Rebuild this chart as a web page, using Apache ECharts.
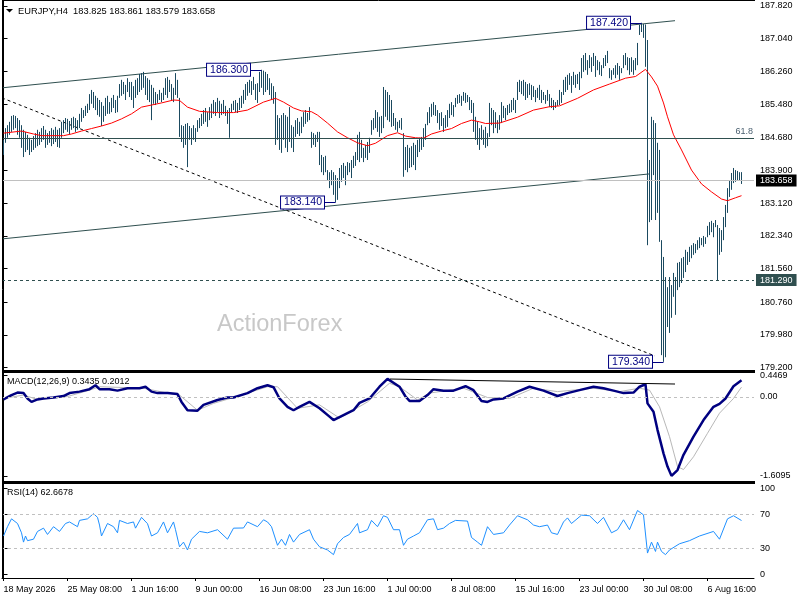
<!DOCTYPE html>
<html><head><meta charset="utf-8">
<script src="https://cdn.jsdelivr.net/npm/echarts@6.0.0/dist/echarts.min.js"></script>
<style>html,body{margin:0;padding:0;background:#fff}#c{width:800px;height:600px}</style>
</head><body><div id="c"></div>
<script>
// ---------- DATA ----------
const highs = [
184.63,184.91,184.98,185.06,185.20,185.22,185.20,185.15,185.10,184.98,
184.87,184.82,184.75,184.68,184.63,184.72,184.79,184.87,184.82,184.91,
184.96,184.87,184.79,184.84,184.91,184.87,184.94,184.87,184.91,185.06,
185.10,185.15,185.13,185.08,185.15,185.18,185.15,185.10,185.25,185.39,
185.34,185.44,185.49,185.72,185.82,185.77,185.68,185.63,185.58,185.53,
185.44,185.63,185.68,185.53,185.63,185.70,185.58,185.68,185.96,186.06,
186.01,185.94,186.10,186.01,186.01,185.91,186.06,186.10,186.20,186.22,
186.25,186.15,186.10,186.06,185.94,185.87,185.77,185.72,185.82,185.75,
185.87,186.10,186.13,186.06,185.96,185.87,186.22,186.06,185.63,184.98,
184.96,185.01,185.03,184.96,184.91,184.98,184.91,185.10,185.15,185.25,
185.34,185.39,185.29,185.41,185.49,185.58,185.53,185.63,185.56,185.49,
185.58,185.44,185.34,185.39,185.49,185.56,185.58,185.51,185.63,185.68,
185.82,185.96,186.01,186.06,186.03,186.13,185.96,185.98,186.25,186.30,
186.28,186.25,186.20,186.10,185.98,185.91,185.77,185.22,185.15,185.22,
185.27,185.22,185.18,185.41,184.98,184.94,185.10,185.15,185.06,185.18,
185.29,185.34,185.27,185.41,184.82,184.79,184.75,184.82,184.82,184.27,
184.22,184.25,183.91,183.86,183.91,183.86,183.79,183.72,183.96,184.03,
184.08,184.01,184.10,184.08,184.15,184.25,184.34,184.75,184.82,184.63,
184.44,184.51,184.58,184.68,185.10,185.15,185.34,185.29,185.18,185.20,
185.89,185.82,185.77,185.70,185.58,185.27,185.15,185.06,185.10,185.15,
184.79,184.46,184.51,184.44,184.48,184.56,184.51,184.63,184.68,184.70,
184.91,185.01,185.29,185.41,185.49,185.53,185.46,185.34,185.27,185.29,
185.15,185.22,185.34,185.49,185.53,185.46,185.63,185.70,185.72,185.68,
185.77,185.75,185.70,185.65,185.58,185.51,185.18,185.06,184.91,184.98,
184.87,184.94,184.79,185.51,185.39,185.34,185.29,185.10,185.22,185.53,
185.44,185.39,185.46,185.49,185.58,185.63,185.58,186.01,186.06,186.03,
186.06,186.01,185.96,185.98,185.94,185.91,185.82,185.87,185.94,185.82,
185.77,185.70,185.82,185.72,185.63,185.58,185.53,185.58,185.82,185.77,
186.06,186.13,186.18,186.22,186.15,186.25,186.18,186.20,186.25,186.58,
186.65,186.70,186.53,186.65,186.60,186.70,186.63,186.53,186.49,186.41,
186.58,186.65,186.75,186.34,186.29,186.34,186.41,186.46,186.39,186.34,
186.65,186.70,186.60,186.58,186.60,186.53,186.58,186.94,187.37,187.42,
187.39,187.38,187.01,184.15,185.18,185.10,185.03,184.56,184.39,182.24,
181.84,181.36,181.12,181.36,181.17,181.46,181.36,181.70,181.72,181.81,
181.84,182.01,181.96,182.08,182.12,182.17,182.15,182.24,182.31,182.29,
182.34,182.31,182.58,182.67,182.70,182.65,182.72,182.60,182.53,182.48,
182.79,183.08,183.48,183.67,183.84,183.96,183.91,183.89,183.86,183.861
];
const lows = [
184.27,184.56,184.68,184.75,184.82,184.87,184.91,184.75,184.68,184.44,
184.22,184.34,184.39,184.27,184.34,184.39,184.44,184.48,184.51,184.58,
184.63,184.44,184.51,184.56,184.48,184.53,184.58,184.46,184.44,184.68,
184.79,184.87,184.82,184.77,184.87,184.91,184.82,184.87,184.91,185.06,
185.15,185.20,185.27,185.34,185.49,185.39,185.34,185.22,185.18,184.96,
185.06,185.20,185.25,185.25,185.29,185.39,185.27,185.29,185.63,185.68,
185.72,185.58,185.77,185.65,185.58,185.39,185.63,185.70,185.77,185.82,
185.87,185.70,185.58,185.53,185.10,185.49,185.46,185.51,185.58,185.53,
185.58,185.70,185.63,185.77,185.58,185.53,185.70,185.63,184.70,184.58,
184.44,184.51,183.98,184.63,184.51,184.63,184.58,184.82,184.91,184.96,
185.01,185.06,184.94,185.10,185.15,185.25,185.20,185.29,185.15,185.22,
185.25,185.20,185.01,184.68,185.29,185.34,185.29,185.27,185.34,185.39,
185.49,185.58,185.68,185.75,185.70,185.82,185.58,185.51,185.77,185.87,
185.70,185.77,185.82,185.70,185.58,185.49,184.51,184.63,184.39,184.32,
184.63,184.44,184.34,184.58,184.44,184.34,184.70,184.77,184.72,184.79,
184.94,185.01,185.06,185.10,184.44,184.51,184.46,184.58,184.03,183.86,
183.79,183.86,183.67,183.48,183.55,183.32,183.14,183.20,183.48,183.63,
183.72,183.55,183.79,183.86,183.72,183.96,184.01,184.15,184.10,184.20,
184.10,184.20,184.15,184.32,184.75,184.87,184.91,184.82,184.70,184.79,
184.91,185.18,185.10,185.06,184.94,184.96,184.87,184.82,184.91,184.87,
183.75,183.91,183.86,183.96,183.98,184.03,183.91,184.22,184.34,184.39,
184.46,184.63,184.98,185.03,185.18,185.22,185.20,185.03,184.87,184.96,
184.82,184.91,184.94,185.15,185.22,185.18,185.41,185.49,185.51,185.44,
185.56,185.51,185.53,185.34,185.27,184.82,184.63,184.51,184.39,184.63,
184.51,184.44,184.48,184.70,184.98,184.79,184.91,184.79,184.87,185.03,
185.15,185.10,185.22,185.27,185.29,185.34,185.27,185.58,185.77,185.72,
185.68,185.58,185.63,185.70,185.58,185.65,185.53,185.63,185.58,185.51,
185.58,185.49,185.56,185.41,185.39,185.34,185.39,185.44,185.46,185.51,
185.70,185.77,185.82,185.94,185.75,185.94,185.87,185.96,185.82,186.10,
186.25,186.29,186.18,186.34,186.25,186.39,186.13,186.29,186.18,186.15,
186.34,186.39,186.46,186.10,186.06,186.18,186.10,186.18,186.06,186.22,
186.34,186.41,186.29,186.18,186.25,186.18,186.29,186.41,187.13,187.20,
187.06,186.37,182.12,182.67,182.72,183.79,182.72,182.89,182.20,179.50,
179.34,179.45,180.17,180.03,180.39,180.89,180.46,181.05,181.12,181.22,
181.34,181.48,181.65,181.72,181.81,181.89,181.93,182.01,182.05,182.12,
182.08,182.15,182.31,182.36,182.43,182.31,182.55,181.29,181.89,181.96,
182.24,182.55,182.89,183.27,183.44,183.60,183.63,183.67,183.67,183.579
];
// moving average (bar index, price)
const maPoints = [[0,184.79],[9,184.84],[15,184.77],[19,184.73],[30,184.73],[34,184.77],[39,184.84],[44,184.90],[49,184.96],[54,185.03],[59,185.13],[64,185.25],[69,185.41],[74,185.46],[79,185.51],[85,185.58],[88,185.57],[92,185.41],[98,185.31],[107,185.28],[115,185.28],[122,185.34],[130,185.53],[136,185.62],[140,185.53],[145,185.39],[149,185.32],[154,185.30],[157,185.22],[162,185.03],[167,184.82],[172,184.68],[177,184.56],[182,184.49],[186,184.55],[192,184.73],[197,184.80],[201,184.72],[206,184.68],[210,184.67],[214,184.77],[219,184.84],[224,184.90],[229,185.02],[234,185.10],[238,185.06],[241,185.02],[248,185.03],[257,185.17],[265,185.34],[273,185.42],[278,185.44],[287,185.62],[295,185.82],[303,185.96],[311,186.10],[316,186.14],[321,186.31],[324,186.13],[327,185.91],[330,185.51],[332,185.18],[335,184.75],[339,184.39],[344,183.91],[349,183.58],[354,183.39],[359,183.22],[362,183.18],[366,183.25],[369,183.30]];
const macdPoints = [[0,-0.05],[4,0.04],[7,0.09],[10,0.08],[12,-0.03],[14,-0.10],[17,-0.05],[20,-0.03],[25,-0.01],[30,0.02],[33,0.08],[38,0.11],[43,0.16],[46,0.24],[48,0.16],[53,0.16],[57,0.13],[62,0.18],[68,0.18],[71,0.21],[74,0.11],[77,0.08],[82,0.08],[87,0.06],[89,-0.10],[92,-0.27],[97,-0.28],[100,-0.16],[107,-0.06],[112,-0.01],[115,-0.01],[122,0.08],[127,0.18],[132,0.24],[135,0.20],[138,-0.03],[142,-0.20],[145,-0.27],[148,-0.20],[153,-0.10],[158,-0.23],[163,-0.40],[165,-0.47],[170,-0.37],[175,-0.27],[178,-0.12],[183,-0.03],[188,0.21],[192,0.37],[198,0.21],[201,0.01],[203,-0.08],[208,-0.08],[212,0.04],[215,0.16],[220,0.13],[225,0.13],[231,0.22],[235,0.14],[239,-0.08],[242,-0.10],[245,-0.05],[250,-0.03],[257,0.11],[263,0.21],[270,0.13],[277,0.02],[282,0.08],[288,0.14],[295,0.21],[300,0.18],[305,0.13],[310,0.08],[315,0.09],[318,0.21],[321,0.26],[322,-0.13],[325,-0.30],[327,-0.67],[330,-1.15],[332,-1.42],[334,-1.6095],[337,-1.49],[340,-1.18],[345,-0.81],[350,-0.47],[355,-0.20],[358,-0.14],[361,-0.03],[365,0.22],[369,0.3435]];
const signalPoints = [[0,-0.03],[10,0.04],[17,-0.05],[32,0.01],[43,0.14],[48,0.21],[70,0.18],[82,0.08],[88,0.04],[97,-0.27],[105,-0.13],[115,-0.01],[132,0.21],[137,0.21],[147,-0.23],[158,-0.16],[168,-0.43],[182,-0.10],[193,0.28],[198,0.21],[207,-0.06],[213,0.08],[230,0.18],[242,-0.01],[253,-0.03],[265,0.18],[277,0.11],[295,0.18],[308,0.11],[318,0.18],[323,0.14],[328,-0.20],[333,-0.81],[337,-1.42],[340,-1.48],[345,-1.22],[352,-0.74],[358,-0.33],[365,-0.03],[369,0.2012]];
const rsiPoints = [[0,44.7],[2,55.5],[4,64.6],[7,59.2],[9,48.4],[10,37.6],[11,44.7],[12,39.3],[15,41],[17,50],[20,53.8],[22,46.5],[25,55.5],[28,50],[31,59.2],[33,61],[37,55.5],[38,62.8],[42,64.6],[45,70.6],[47,66.3],[48,57.4],[49,44.7],[52,59.2],[55,55.5],[57,48.4],[58,62.8],[62,59.2],[65,61],[66,53.8],[69,66.3],[72,59],[74,44.7],[77,48.4],[80,61],[82,48.4],[85,61],[86,52],[88,32.2],[90,37.6],[92,28.5],[94,41],[98,50],[102,48.4],[107,52],[112,41],[115,53.8],[120,54],[122,61],[127,55.5],[130,63.5],[132,61],[134,55.5],[137,33.9],[139,41],[141,33.9],[143,46.5],[145,37.6],[148,46.5],[153,52],[155,41],[158,32.2],[162,28.5],[165,23.1],[167,35.7],[170,43],[173,46.5],[177,59.2],[178,48.4],[182,52],[184,62.8],[187,55.5],[190,68.2],[192,66.3],[195,52],[198,52],[200,33.9],[202,41],[205,44.7],[208,48.4],[212,63.5],[215,64.6],[217,52],[220,53.8],[223,59.2],[226,62.8],[232,62],[234,43],[237,37.6],[239,33.9],[242,55.5],[245,46.5],[250,48.4],[253,57.4],[257,68.2],[262,63.5],[265,57.4],[268,55.5],[272,57.4],[274,48.4],[277,46.5],[280,61],[282,65.7],[284,59.2],[289,68.9],[293,68.2],[297,59.2],[300,66.3],[304,48.4],[307,52],[310,63.5],[313,52],[317,74.3],[320,69.2],[322,24.9],[324,37.6],[326,26.8],[327,37.6],[329,26.8],[331,23.1],[333,28.5],[338,35.7],[343,39.3],[348,44.7],[355,50],[358,41],[362,64.6],[365,68.2],[369,62.6678]];
// trend lines: [bar, value] end points
const upperChannel = [[-0.75,185.87],[335.75,187.47]];
const lowerChannel = [[-0.75,182.27],[323.25,183.82]];
const fallingLine = [[-0.75,185.63],[325.75,179.48]];
const macdTrend = [[193.25,0.367],[335.75,0.265]];
// levels
const fibLevel = 184.68, fibLabel = '61.8';
const lastPrice = 183.658, supportLevel = 181.29;
// annotated extremes
const annoBars = [129, 319, 166, 330];
const annoPrices = [186.30, 187.42, 183.14, 179.34];
const annoLabels = ['186.300','187.420','183.140','179.340'];
// ticks
const priceTicks = [179.2,179.98,180.76,181.56,182.34,183.12,183.9,184.68,185.48,186.26,187.04,187.82];
const macdTicks = [0.4469, 0, -1.6095];
const macdTickLabels = ['0.4469','0.00','-1.6095'];
const rsiTicks = [0,30,70,100];
const timeTickBars = [0,32,64,96,128,160,192,224,256,288,320,352];
const timeTickLabels = ['18 May 2026','25 May 08:00','1 Jun 16:00','9 Jun 00:00','16 Jun 08:00','23 Jun 16:00','1 Jul 00:00','8 Jul 08:00','15 Jul 16:00','23 Jul 00:00','30 Jul 08:00','6 Aug 16:00'];
const headerText = 'EURJPY,H4  183.825 183.861 183.579 183.658';
const macdText = 'MACD(12,26,9) 0.3435 0.2012';
const rsiText = 'RSI(14) 62.6678';
const watermark = 'ActionForex';

// ---------- STYLE ----------
const FONT = '"Liberation Sans", Arial, sans-serif';
const BAR_COLOR = '#1b4a60';
const SLATE = '#2f4f4f';
const X_MIN = -0.75, X_MAX = 375.25;
const BOX_GAP = 5.5;

const chart = echarts.init(document.getElementById('c'), null, {width:800, height:600});

function hiddenX(gi){
  return {type:'value', gridIndex:gi, min:X_MIN, max:X_MAX, axisLine:{show:false}, axisTick:{show:false}, axisLabel:{show:false}, splitLine:{show:false}};
}
const labelBase = {fontSize:9, color:'#000', fontFamily:FONT};

const barData = highs.map((h,i)=>[i, lows[i], h]);

const option = {
  animation:false,
  backgroundColor:'#fff',
  grid:[
    {left:2, width:752, top:1, height:369},
    {left:2, width:752, top:373, height:108},
    {left:2, width:752, top:484, height:94}
  ],
  xAxis:[
    hiddenX(0), hiddenX(1),
    {type:'value', gridIndex:2, min:X_MIN, max:X_MAX, splitLine:{show:false},
     axisLine:{show:true, onZero:false, lineStyle:{color:'#000', width:1}},
     axisTick:{show:true, length:3, customValues:timeTickBars, lineStyle:{color:'#000'}},
     axisLabel:Object.assign({show:true, customValues:timeTickBars, align:'left', margin:7,
       formatter:(v)=>{const k=timeTickBars.indexOf(Math.round(v)); return k>=0?timeTickLabels[k]:'';}}, labelBase)}
  ],
  yAxis:[
    {type:'value', gridIndex:0, position:'right', min:179.146, max:187.939, scale:true, splitLine:{show:false},
     axisLine:{show:true, lineStyle:{color:'#000'}},
     axisTick:{show:true, length:4, customValues:priceTicks, lineStyle:{color:'#000'}},
     axisLabel:Object.assign({customValues:priceTicks, margin:6, formatter:(v)=>v.toFixed(3)}, labelBase)},
    {type:'value', gridIndex:1, position:'right', min:-1.714, max:0.49, splitLine:{show:false},
     axisLine:{show:true, lineStyle:{color:'#000'}},
     axisTick:{show:true, length:4, customValues:macdTicks, lineStyle:{color:'#000'}},
     axisLabel:Object.assign({customValues:macdTicks, margin:6, formatter:(v)=>{
        let best=0; macdTicks.forEach((t,k)=>{ if(Math.abs(t-v)<Math.abs(macdTicks[best]-v)) best=k; }); return macdTickLabels[best];}}, labelBase)},
    {type:'value', gridIndex:2, position:'right', min:-4, max:105, splitLine:{show:false},
     axisLine:{show:true, lineStyle:{color:'#000'}},
     axisTick:{show:true, length:4, customValues:rsiTicks, lineStyle:{color:'#000'}},
     axisLabel:Object.assign({customValues:rsiTicks, margin:6, formatter:(v)=>String(Math.round(v))}, labelBase)}
  ],
  series:[
    {type:'line', xAxisIndex:0, yAxisIndex:0, data:upperChannel, symbol:'none', silent:true, z:2,
     lineStyle:{color:SLATE, width:1}},
    {type:'line', xAxisIndex:0, yAxisIndex:0, data:lowerChannel, symbol:'none', silent:true, z:2,
     lineStyle:{color:SLATE, width:1}},
    {type:'line', xAxisIndex:0, yAxisIndex:0, data:fallingLine, symbol:'none', silent:true, z:2,
     lineStyle:{color:'#000', width:1, type:[3,3]}},
    {type:'custom', xAxisIndex:0, yAxisIndex:0, data:barData, z:3, silent:true,
     encode:{x:0, y:[1,2]},
     renderItem:(params, api)=>{
       const i = api.value(0);
       const top = api.coord([i, api.value(2)]);
       const bot = api.coord([i, api.value(1)]);
       const x = Math.floor(top[0]) + 0.5;
       let y1 = top[1], y2 = bot[1];
       if (y2 - y1 < 1) y2 = y1 + 1;
       return {type:'line', shape:{x1:x, y1:y1, x2:x, y2:y2}, style:{stroke:BAR_COLOR, lineWidth:1}};
     }},
    {type:'line', xAxisIndex:0, yAxisIndex:0, data:maPoints, symbol:'none', silent:true, z:4,
     lineStyle:{color:'#ff0000', width:1},
     markLine:{silent:true, symbol:'none', animation:false,
       data:[
         {yAxis:fibLevel, lineStyle:{color:SLATE, type:'solid', width:1},
          label:{show:true, position:'insideEndTop', formatter:fibLabel, color:'#4a6070', fontSize:9, fontFamily:FONT, distance:[1,2]}},
         {yAxis:lastPrice, lineStyle:{color:'#c0c0c0', type:'solid', width:1},
          label:{show:true, position:'end', formatter:lastPrice.toFixed(3), color:'#fff', backgroundColor:'#000', padding:[2,4,1,4], fontSize:9, fontFamily:FONT, distance:2}},
         {yAxis:supportLevel, lineStyle:{color:SLATE, type:[3,3], width:1},
          label:{show:true, position:'end', formatter:supportLevel.toFixed(3), color:'#fff', backgroundColor:SLATE, padding:[2,4,1,4], fontSize:9, fontFamily:FONT, distance:2}}
       ].concat(annoBars.map((b,k)=>[
         {coord:[b-BOX_GAP, annoPrices[k]], lineStyle:{color:'#000080', type:'solid', width:1}, label:{show:false}},
         {coord:[b, annoPrices[k]]}
       ]))
     },
     markPoint:{silent:true, symbol:'rect', symbolSize:1, itemStyle:{color:'rgba(0,0,0,0)'}, animation:false,
       label:{show:true, position:'left', distance:0, color:'#000080', fontSize:10.5, fontFamily:FONT,
              backgroundColor:'#fff', borderColor:'#000080', borderWidth:1, padding:[1,2,0,3], lineHeight:11},
       data:annoBars.map((b,k)=>({coord:[b-BOX_GAP, annoPrices[k]], value:annoLabels[k], label:{formatter:annoLabels[k]}}))
     }},
    {type:'line', xAxisIndex:1, yAxisIndex:1, data:signalPoints, symbol:'none', silent:true, z:3,
     lineStyle:{color:'#b8b8b8', width:1},
     markLine:{silent:true, symbol:'none', label:{show:false}, lineStyle:{color:'#c0c0c0', type:[3,3], width:1}, data:[{yAxis:0}]}},
    {type:'line', xAxisIndex:1, yAxisIndex:1, data:macdPoints, symbol:'none', silent:true, z:4,
     lineStyle:{color:'#000080', width:2.5}},
    {type:'line', xAxisIndex:1, yAxisIndex:1, data:macdTrend, symbol:'none', silent:true, z:5,
     lineStyle:{color:'#000', width:1}},
    {type:'line', xAxisIndex:2, yAxisIndex:2, data:rsiPoints, symbol:'none', silent:true, z:4,
     lineStyle:{color:'#1e90ff', width:1},
     markLine:{silent:true, symbol:'none', label:{show:false}, lineStyle:{color:'#c0c0c0', type:[3,3], width:1}, data:[{yAxis:70},{yAxis:30}]}}
  ],
  graphic:[
    {type:'line', shape:{x1:2.5, y1:0, x2:2.5, y2:579}, style:{stroke:'#000', lineWidth:1}, z:100},
    {type:'line', shape:{x1:2, y1:0.5, x2:755, y2:0.5}, style:{stroke:'#000', lineWidth:1}, z:100},
    {type:'rect', shape:{x:2, y:370, width:753, height:3}, style:{fill:'#000'}, z:100},
    {type:'rect', shape:{x:2, y:481, width:753, height:3}, style:{fill:'#000'}, z:100},
    {type:'polygon', shape:{points:[[6,9],[13,9],[9.5,12.5]]}, style:{fill:'#000'}, z:100},
    {type:'text', style:{x:18, y:11, text:headerText, font:'9.3px "Liberation Sans", Arial, sans-serif', fill:'#000', verticalAlign:'middle'}, z:100},
    {type:'text', style:{x:7, y:381.5, text:macdText, font:'9px "Liberation Sans", Arial, sans-serif', fill:'#000', verticalAlign:'middle'}, z:100},
    {type:'text', style:{x:7, y:493, text:rsiText, font:'9px "Liberation Sans", Arial, sans-serif', fill:'#000', verticalAlign:'middle'}, z:100},
    {type:'text', style:{x:217, y:325, text:watermark, font:'23.5px "Liberation Sans", Arial, sans-serif', fill:'#c8c8c8', verticalAlign:'middle'}, z:1}
  ]
};
chart.setOption(option);
</script>
</body></html>
